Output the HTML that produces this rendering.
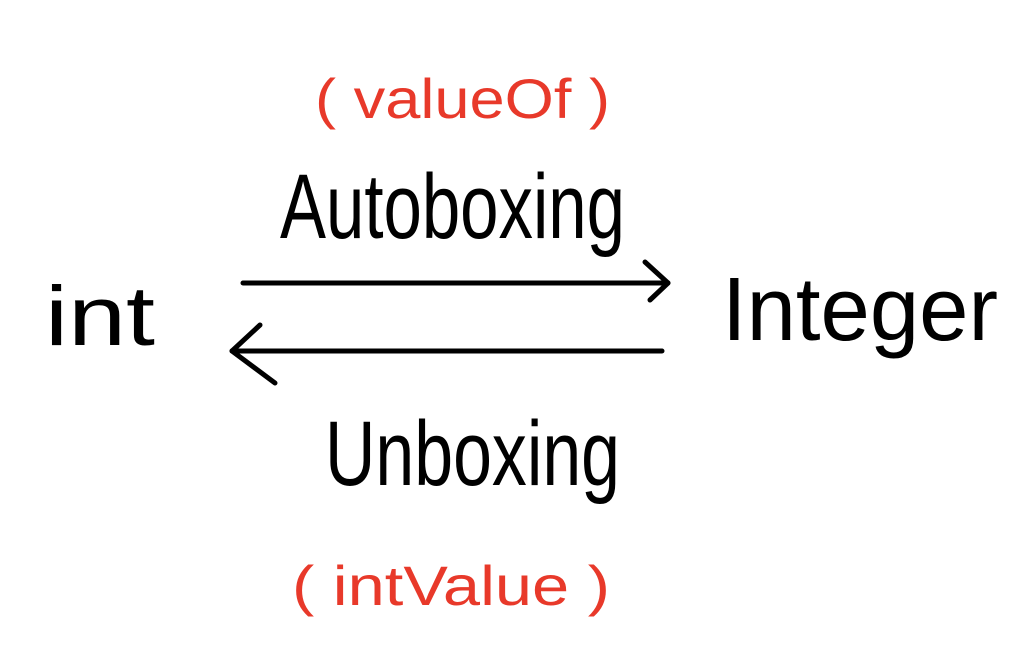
<!DOCTYPE html>
<html>
<head>
<meta charset="utf-8">
<style>
  html, body { margin: 0; padding: 0; background: #fff; }
  svg { display: block; }
  text { font-family: "Liberation Sans", sans-serif; }
</style>
</head>
<body>
<svg width="1028" height="656" viewBox="0 0 1028 656" xmlns="http://www.w3.org/2000/svg">
  <rect width="1028" height="656" fill="#fff"/>

  <!-- red top label -->
  <text x="315" y="118" font-size="56" fill="#e8392a" textLength="295" lengthAdjust="spacingAndGlyphs">( valueOf )</text>

  <!-- Autoboxing -->
  <text x="280" y="238" font-size="92" fill="#000" textLength="345" lengthAdjust="spacingAndGlyphs">Autoboxing</text>

  <!-- int -->
  <text x="45" y="345" font-size="84" fill="#000" textLength="110" lengthAdjust="spacingAndGlyphs">int</text>

  <!-- Integer -->
  <text x="722" y="340" font-size="90" fill="#000" textLength="276" lengthAdjust="spacingAndGlyphs">Integer</text>

  <!-- top arrow -->
  <g stroke="#000" stroke-width="5" stroke-linecap="round" stroke-linejoin="round" fill="none">
    <line x1="243" y1="283" x2="668" y2="283"/>
    <polyline points="645,262 668,283 650,300"/>
    <!-- bottom arrow -->
    <line x1="662" y1="351" x2="232" y2="351"/>
    <polyline points="260,325 232,351 275,383"/>
  </g>

  <!-- Unboxing -->
  <text x="325" y="485" font-size="92" fill="#000" textLength="295" lengthAdjust="spacingAndGlyphs">Unboxing</text>

  <!-- red bottom label -->
  <text x="292" y="605" font-size="56" fill="#e8392a" textLength="318" lengthAdjust="spacingAndGlyphs">( intValue )</text>
</svg>
</body>
</html>
